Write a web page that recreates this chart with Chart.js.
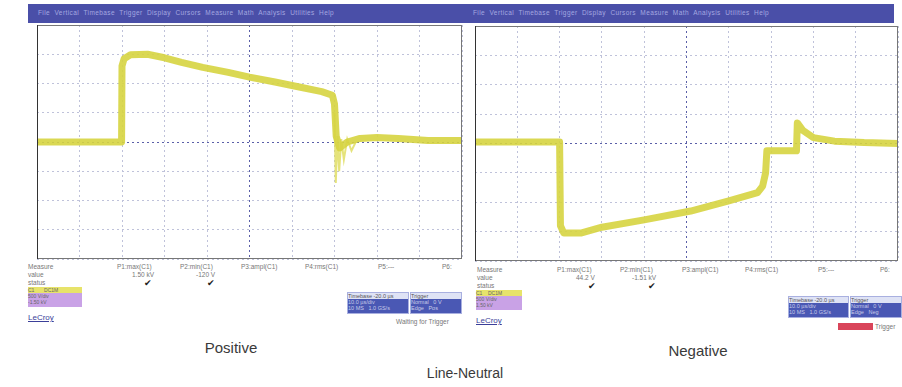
<!DOCTYPE html>
<html>
<head>
<meta charset="utf-8">
<script src="https://cdn.jsdelivr.net/npm/chart.js@4"></script>
<style>
  body { margin: 0; width: 902px; height: 387px; background: #fff; position: relative; overflow: hidden; font-family: "Liberation Sans", Arial, sans-serif; }
  .abs { position: absolute; }
  .bar { left: 28px; top: 4px; width: 866px; height: 19px; background: #4a4fa8; }
  .menu { font-size: 6.5px; color: #a4a8e0; top: 9px; white-space: nowrap; letter-spacing: 0.4px; }
  .meas { font-size: 6.5px; color: #777; white-space: nowrap; }
  .chk { font-size: 9px; color: #222; }
  .chan { width: 54px; height: 20px; background: #c9a2e6; }
  .chan div { height: 6px; font-size: 5px; color: #666; }
  .chan .c1 { background: #e7e36a; }
  .lecroy { font-size: 8px; color: #3b3f99; text-decoration: underline; }
  .tb { height: 20px; background: #4a58b4; border: 1px solid #a9b0e0; font-size: 5.5px; color: #c8cbe8; }
  .tb .hd { background: #dfe3f5; color: #555; height: 6px; }
  .cap { font-size: 15px; color: #3a3a3a; transform: translateX(-50%); }
</style>
</head>
<body>
<div class="abs bar"></div>
<div class="abs menu" style="left:38px">File &nbsp;Vertical &nbsp;Timebase &nbsp;Trigger &nbsp;Display &nbsp;Cursors &nbsp;Measure &nbsp;Math &nbsp;Analysis &nbsp;Utilities &nbsp;Help</div>
<div class="abs menu" style="left:473px">File &nbsp;Vertical &nbsp;Timebase &nbsp;Trigger &nbsp;Display &nbsp;Cursors &nbsp;Measure &nbsp;Math &nbsp;Analysis &nbsp;Utilities &nbsp;Help</div>

<canvas id="positive-chart" class="abs" style="left:36px;top:24px" width="427" height="236"></canvas>
<canvas id="negative-chart" class="abs" style="left:474px;top:25px" width="425" height="237"></canvas>

<!-- measurement rows, left scope -->
<div class="abs meas" style="left:28px;top:263px;line-height:8px">Measure<br>value<br>status</div>
<div class="abs meas" style="left:117px;top:263px">P1:max(C1)</div>
<div class="abs meas" style="left:180px;top:263px">P2:min(C1)</div>
<div class="abs meas" style="left:241px;top:263px">P3:ampl(C1)</div>
<div class="abs meas" style="left:305px;top:263px">P4:rms(C1)</div>
<div class="abs meas" style="left:378px;top:263px">P5:---</div>
<div class="abs meas" style="left:442px;top:263px">P6:</div>
<div class="abs meas" style="left:132px;top:271px">1.50 kV</div>
<div class="abs meas" style="left:196px;top:271px">-120 V</div>
<div class="abs chk" style="left:144px;top:278px">✔</div>
<div class="abs chk" style="left:207px;top:278px">✔</div>
<div class="abs chan" style="left:28px;top:287px"><div class="c1">C1 &nbsp;&nbsp;&nbsp;&nbsp;&nbsp; DC1M</div><div>500 V/div</div><div>-1.50 kV</div></div>
<div class="abs lecroy" style="left:28px;top:313px">LeCroy</div>
<div class="abs tb" style="left:347px;top:292px;width:60px"><div class="hd">Timebase -20.0 µs</div>10.0 µs/div<br>10 MS &nbsp; 1.0 GS/s</div>
<div class="abs tb" style="left:410px;top:292px;width:50px"><div class="hd">Trigger</div>Normal &nbsp; 0 V<br>Edge &nbsp; Pos</div>
<div class="abs meas" style="left:396px;top:318px">Waiting for Trigger</div>

<!-- measurement rows, right scope -->
<div class="abs meas" style="left:477px;top:266px;line-height:8px">Measure<br>value<br>status</div>
<div class="abs meas" style="left:557px;top:266px">P1:max(C1)</div>
<div class="abs meas" style="left:620px;top:266px">P2:min(C1)</div>
<div class="abs meas" style="left:682px;top:266px">P3:ampl(C1)</div>
<div class="abs meas" style="left:745px;top:266px">P4:rms(C1)</div>
<div class="abs meas" style="left:818px;top:266px">P5:---</div>
<div class="abs meas" style="left:880px;top:266px">P6:</div>
<div class="abs meas" style="left:576px;top:274px">44.2 V</div>
<div class="abs meas" style="left:632px;top:274px">-1.51 kV</div>
<div class="abs chk" style="left:588px;top:281px">✔</div>
<div class="abs chk" style="left:648px;top:281px">✔</div>
<div class="abs chan" style="left:476px;top:290px;width:46px"><div class="c1">C1 &nbsp;&nbsp; DC1M</div><div>500 V/div</div><div>1.50 kV</div></div>
<div class="abs lecroy" style="left:476px;top:316px">LeCroy</div>
<div class="abs tb" style="left:788px;top:296px;width:59px"><div class="hd">Timebase -20.0 µs</div>10.0 µs/div<br>10 MS &nbsp; 1.0 GS/s</div>
<div class="abs tb" style="left:850px;top:296px;width:50px"><div class="hd">Trigger</div>Normal &nbsp; 0 V<br>Edge &nbsp; Neg</div>
<div class="abs" style="left:838px;top:323px;width:35px;height:7px;background:#d9455a"></div>
<div class="abs meas" style="left:875px;top:323px">Trigger</div>

<div class="abs cap" style="left:231px;top:339px">Positive</div>
<div class="abs cap" style="left:698px;top:342px">Negative</div>
<div class="abs cap" style="left:465px;top:365px;font-size:14px">Line-Neutral</div>

<script>
// time in graticule divisions (10 across), voltage in divisions (4 up / 4 down)
const posTime  = [0, 1.99, 2.0, 2.05, 2.2, 2.6, 3.0, 3.4, 3.9, 4.5, 5.0, 5.6, 6.2, 6.7, 6.95, 7.0, 7.04, 7.12, 7.3, 7.6, 8.0, 8.5, 9.2, 10];
const posVolts = [0, 0, 2.6, 2.85, 2.98, 3.0, 2.88, 2.72, 2.55, 2.38, 2.22, 2.05, 1.87, 1.72, 1.6, 1.3, 0.2, -0.2, 0.0, 0.12, 0.15, 0.12, 0.05, 0.05];

// thin ringing after the falling edge
const ringTime  = [7.0, 7.03, 7.07, 7.11, 7.16, 7.22, 7.3, 7.4, 7.5];
const ringVolts = [1.0, -1.4, 0.2, -1.0, 0.1, -0.6, 0.1, -0.3, 0.0];

const negTime  = [0, 2.0, 2.02, 2.1, 2.5, 3.0, 4.0, 5.1, 6.0, 6.68, 6.8, 6.87, 6.9, 7.6, 7.62, 7.75, 8.0, 8.5, 9.2, 10];
const negVolts = [0.05, 0.05, -2.8, -3.05, -3.05, -2.85, -2.6, -2.3, -1.95, -1.67, -1.45, -1.0, -0.25, -0.25, 0.7, 0.45, 0.2, 0.08, 0.03, 0.0];

const traceColor = "rgba(214, 212, 64, 0.9)";

const frame = {
  id: "frame",
  afterDraw(chart) {
    const a = chart.chartArea;
    const ctx = chart.ctx;
    ctx.save();
    ctx.strokeStyle = "#777";
    ctx.lineWidth = 1;
    ctx.strokeRect(a.left + 0.5, a.top + 0.5, a.right - a.left - 1, a.bottom - a.top - 1);
    ctx.strokeStyle = "#333";
    ctx.beginPath();
    ctx.moveTo(a.left + 0.5, a.top);
    ctx.lineTo(a.left + 0.5, a.bottom);
    ctx.stroke();
    ctx.restore();
  },
};

function gridColor(center) {
  return (c) => (c.tick && c.tick.value === center ? "#5a5fa8" : "#bfc2da");
}

function toPoints(times, volts) {
  return times.map((t, i) => ({ x: t, y: volts[i] }));
}

function renderScope(id, times, volts, ringT, ringV) {
  const datasets = [
    {
      data: toPoints(times, volts),
      borderColor: traceColor,
      borderWidth: 7,
      pointRadius: 0,
      tension: 0,
      borderJoinStyle: "round",
    },
  ];
  if (ringT) {
    datasets.push({
      data: toPoints(ringT, ringV),
      borderColor: "rgba(222, 220, 90, 0.8)",
      borderWidth: 2,
      pointRadius: 0,
      tension: 0,
    });
  }
  new Chart(document.getElementById(id), {
    type: "line",
    data: { datasets },
    options: {
      responsive: false,
      animation: false,
      devicePixelRatio: 1,
      layout: { padding: 1 },
      plugins: { legend: { display: false }, tooltip: { enabled: false } },
      scales: {
        x: {
          type: "linear",
          min: 0,
          max: 10,
          ticks: { display: false, stepSize: 1 },
          grid: { color: gridColor(5), drawTicks: false },
          border: { display: false, dash: [2, 3] },
        },
        y: {
          min: -4,
          max: 4,
          ticks: { display: false, stepSize: 1 },
          grid: { color: gridColor(0), drawTicks: false },
          border: { display: false, dash: [2, 3] },
        },
      },
    },
    plugins: [frame],
  });
}

renderScope("positive-chart", posTime, posVolts, ringTime, ringVolts);
renderScope("negative-chart", negTime, negVolts);
</script>
</body>
</html>
